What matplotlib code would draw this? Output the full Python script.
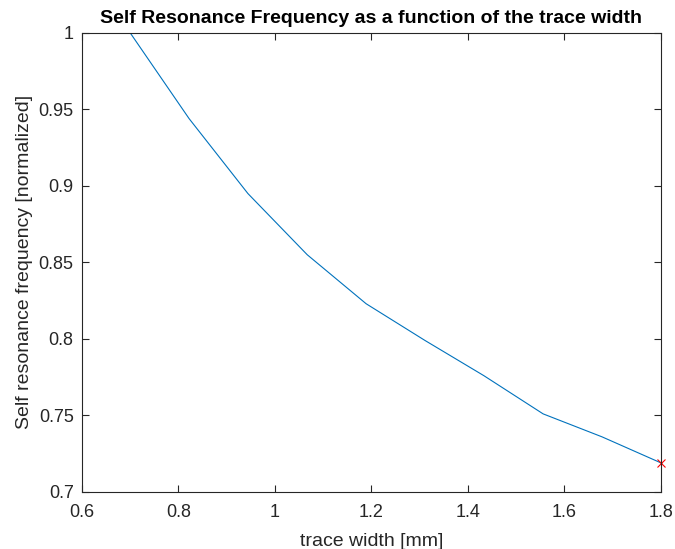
import matplotlib
matplotlib.use("Agg")
import matplotlib.pyplot as plt

# trace width [mm] and normalized self resonance frequency
trace_width = [0.700, 0.822, 0.944, 1.067, 1.189, 1.311, 1.433, 1.556, 1.678, 1.800]
srf_norm = [1.000, 0.944, 0.895, 0.855, 0.823, 0.799, 0.776, 0.751, 0.736, 0.719]

x_ticks = [0.6, 0.8, 1.0, 1.2, 1.4, 1.6, 1.8]
x_tick_labels = ["0.6", "0.8", "1", "1.2", "1.4", "1.6", "1.8"]
y_ticks = [0.7, 0.75, 0.8, 0.85, 0.9, 0.95, 1.0]
y_tick_labels = ["0.7", "0.75", "0.8", "0.85", "0.9", "0.95", "1"]

plt.rcParams["font.family"] = ["Liberation Sans", "DejaVu Sans"]

fig = plt.figure(figsize=(6.75, 5.49), dpi=100)
ax = fig.add_axes([0.1215, 0.104, 0.8575, 0.836])

ax.plot(trace_width, srf_norm, color="#0072BD", linewidth=0.8)
ax.plot(trace_width[-1], srf_norm[-1], marker="x", color="#FF0000",
        markersize=6, markeredgewidth=0.8, clip_on=False)

ax.set_xlim(0.6, 1.8)
ax.set_ylim(0.7, 1.0)
ax.set_xticks(x_ticks)
ax.set_xticklabels(x_tick_labels)
ax.set_yticks(y_ticks)
ax.set_yticklabels(y_tick_labels)

axis_color = "#262626"
for s in ax.spines.values():
    s.set_color(axis_color)
    s.set_linewidth(0.8)
ax.tick_params(direction="in", length=5, width=0.8, colors=axis_color,
               labelsize=13, top=True, right=True, pad=6)
ax.tick_params(axis="x", pad=9)

ax.set_xlabel("trace width [mm]", fontsize=14, color=axis_color, labelpad=8)
ax.set_ylabel("Self resonance frequency [normalized]", fontsize=14, color=axis_color, labelpad=4)
ax.set_title("Self Resonance Frequency as a function of the trace width",
             fontsize=14, fontweight="bold", color="black", pad=7)

fig.savefig("out.png", dpi=100)
